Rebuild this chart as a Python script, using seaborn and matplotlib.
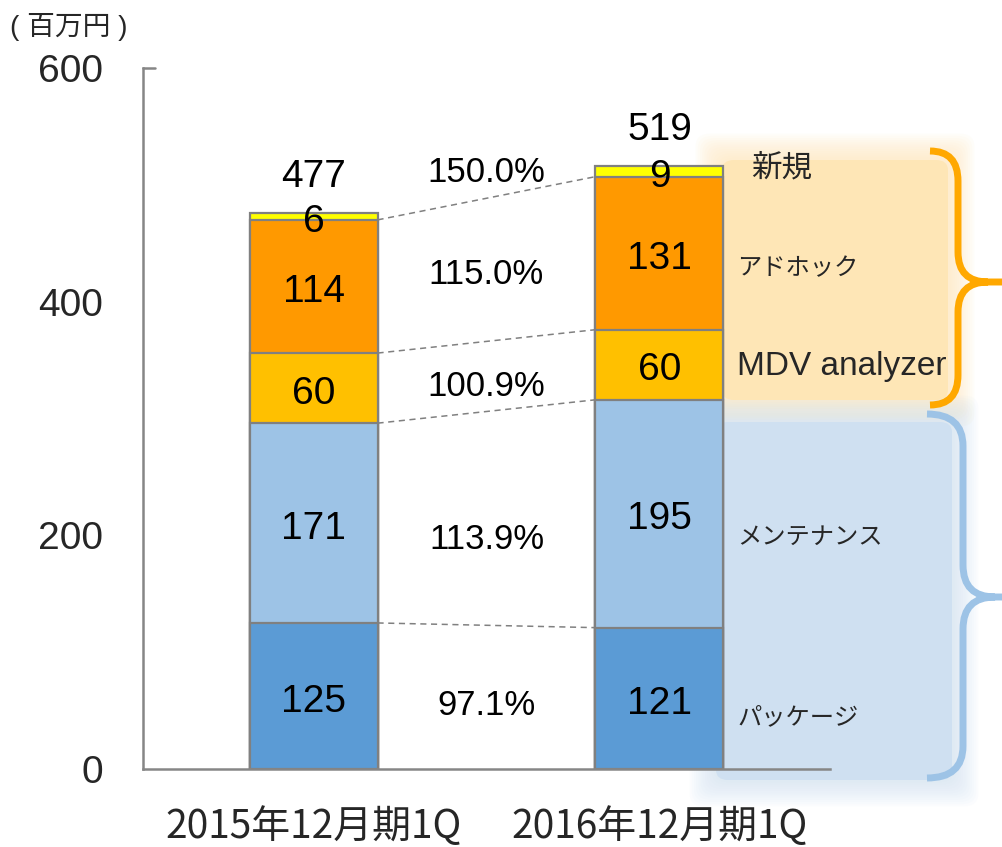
import matplotlib
matplotlib.use('Agg')
import matplotlib.pyplot as plt
from matplotlib.patches import FancyBboxPatch, PathPatch
from matplotlib.path import Path
import numpy as np
import seaborn as sns

# データ
periods = ['2015年12月期1Q', '2016年12月期1Q']
segments = ['パッケージ', 'メンテナンス', 'MDV analyzer', 'アドホック', '新規']
package = [125, 121]
maintenance = [171, 195]
mdv = [60, 60]
adhoc = [114, 131]
new = [6, 9]
totals = [477, 519]
growth = ['97.1%', '113.9%', '100.9%', '115.0%', '150.0%']

colors = ['#5B9BD5', '#9DC3E6', '#FFC000', '#FF9900', '#FFFF00']
edge = '#808080'
axis_col = '#868686'

W, H = 1003, 847
sns.set_theme(style='white')
plt.rcParams['font.family'] = ['Liberation Sans', 'Noto Sans CJK JP']
JP = ['Noto Sans CJK JP', 'DejaVu Sans']


def fx(px):
    return px / W


def fy(py):
    return 1 - py / H


fig = plt.figure(figsize=(W / 100, H / 100), dpi=100)
fig.patch.set_facecolor('white')
ax = fig.add_axes([fx(143), fy(769), (830 - 143) / W, (769 - 68) / H])
ax.set_facecolor('none')


# 背景のぼかしボックス
def glow_box(x0, y0, x1, y1, color):
    for i in range(12, 0, -1):
        p = i * 2.2
        b = FancyBboxPatch((fx(x0 - p), fy(y1 + p)), (x1 - x0 + 2 * p) / W, (y1 - y0 + 2 * p) / H,
                           boxstyle='round,pad=0,rounding_size=0.015', transform=fig.transFigure,
                           facecolor=color, edgecolor='none', alpha=0.07, zorder=-2)
        fig.add_artist(b)
    b = FancyBboxPatch((fx(x0), fy(y1)), (x1 - x0) / W, (y1 - y0) / H,
                       boxstyle='round,pad=0,rounding_size=0.012', transform=fig.transFigure,
                       facecolor=color, edgecolor='none', zorder=-1)
    fig.add_artist(b)


glow_box(722, 160, 948, 400, '#FEE6B6')
glow_box(716, 422, 952, 780, '#CFE0F1')


# 中括弧
def brace(x0, x1, x2, y_top, y_mid, y_bot, r, color):
    pts = [(x0, y_top), (x1, y_top), (x1, y_top + r),
           (x1, y_mid - r), (x1, y_mid), (x1 + r, y_mid),
           (x2, y_mid),
           (x1 + r, y_mid), (x1, y_mid), (x1, y_mid + r),
           (x1, y_bot - r), (x1, y_bot), (x0, y_bot)]
    codes = [Path.MOVETO, Path.CURVE3, Path.CURVE3,
             Path.LINETO, Path.CURVE3, Path.CURVE3,
             Path.LINETO,
             Path.MOVETO, Path.CURVE3, Path.CURVE3,
             Path.LINETO, Path.CURVE3, Path.CURVE3]
    path = Path([(fx(a), fy(b)) for a, b in pts], codes)
    fig.add_artist(PathPatch(path, transform=fig.transFigure, fill=False,
                             edgecolor=color, lw=5, capstyle='butt', zorder=2))


brace(930, 958, 1010, 151, 282, 405, 30, '#FFA800')
brace(927, 963, 1010, 414, 597, 778, 32, '#9DC3E6')

# 積み上げ棒（累積値を上から重ねる）
values = [package, maintenance, mdv, adhoc, new]
stack = np.cumsum(values, axis=0)
bar_w = 0.37
for i in range(len(values) - 1, -1, -1):
    sns.barplot(x=periods, y=stack[i], color=colors[i], saturation=1, width=bar_w,
                edgecolor=edge, linewidth=1.6, errorbar=None, ax=ax, zorder=3)

# 区切りの点線
for i in range(len(values) - 1):
    ax.plot([bar_w / 2, 1 - bar_w / 2], [stack[i][0], stack[i][1]], color=edge,
            lw=1.1, ls=(0, (4, 3)), zorder=2)

# 数値ラベル
for i, seg in enumerate(values):
    for j, v in enumerate(seg):
        ax.annotate(str(v), (j, stack[i][j] - v / 2), xytext=(0, -4), textcoords='offset points',
                    ha='center', va='center', fontsize=28, color='black', zorder=5)
for j, t in enumerate(totals):
    ax.annotate(str(t), (j, stack[-1][j]), xytext=(0, 13), textcoords='offset points',
                ha='center', va='bottom', fontsize=28, color='black')

growth_y = [57, 199, 330, 426, 513]
for g, y in zip(growth, growth_y):
    ax.annotate(g, (0.5, y), xytext=(0, -2), textcoords='offset points',
                ha='center', va='center', fontsize=25, color='black')

# 右側のセグメント名
label_px = [(737, 717), (737, 537), (737, 366), (737, 268), (751, 168)]
label_fs = [17.5, 17.5, 24, 17.5, 22]
for name, (px, py), fs in zip(segments, label_px, label_fs):
    fam = ['Liberation Sans'] if name.startswith('MDV') else JP
    fig.text(fx(px), fy(py), name, ha='left', va='center', fontsize=fs, family=fam)

fig.text(fx(10), fy(27), '( 百万円 )', ha='left', va='center', fontsize=20,
         family=['Liberation Sans', 'Noto Sans CJK JP'])

# 軸
ax.set_xlim(-0.493, 1.493)
ax.set_ylim(0, 600)
ax.set_yticks([0, 200, 400, 600])
ax.set_xlabel('')
ax.set_ylabel('')
ax.tick_params(axis='y', length=0, pad=29, labelsize=28)
ax.tick_params(axis='x', length=0, pad=27, labelsize=28)
for lbl in ax.get_xticklabels():
    lbl.set_family(JP)
ax.axhline(600, xmin=0, xmax=12 / 687, color=axis_col, lw=1.8, clip_on=False)
for s in ['top', 'right']:
    ax.spines[s].set_visible(False)
for s in ['left', 'bottom']:
    ax.spines[s].set_color(axis_col)
    ax.spines[s].set_linewidth(1.8)
    ax.spines[s].set_zorder(6)
ax.grid(False)

fig.savefig('out.png', dpi=100)
